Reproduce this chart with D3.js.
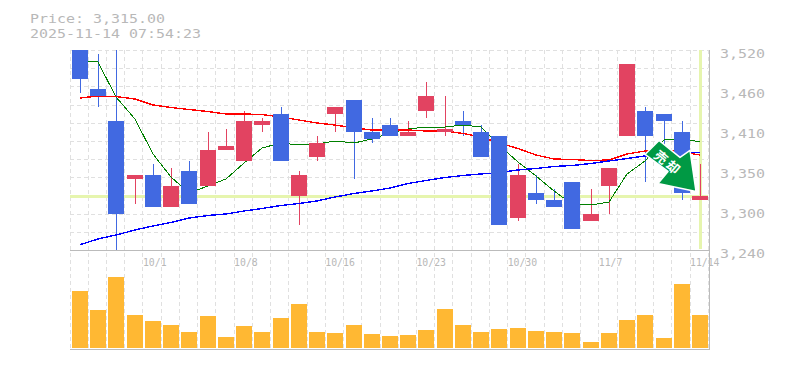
<!DOCTYPE html>
<html>
<head>
<meta charset="utf-8">
<script src="https://cdn.jsdelivr.net/npm/d3@7"></script>
<style>
body { margin: 0; background: #fff; }
text { font-family: "DejaVu Sans Mono", monospace; fill: #b8b8b8; }
.grid { stroke: #e0e0e0; stroke-dasharray: 4,3; shape-rendering: crispEdges; }
.frame { stroke: #bbb; shape-rendering: crispEdges; }
.ma { fill: none; shape-rendering: crispEdges; }
</style>
</head>
<body>
<svg id="chart" width="785" height="370"></svg>
<script>
var dates = ["9/25","9/26","9/29","9/30","10/1","10/2","10/3","10/6","10/7","10/8","10/9","10/10","10/14","10/15","10/16","10/17","10/20","10/21","10/22","10/23","10/24","10/27","10/28","10/29","10/30","10/31","11/4","11/5","11/6","11/7","11/10","11/11","11/12","11/13","11/14"];
var opens  = [3525,3465,3420,3340,3345,3300,3350,3330,3380,3365,3415,3430,3315,3370,3430,3450,3405,3415,3400,3435,3405,3420,3405,3400,3285,3320,3310,3335,3280,3330,3400,3435,3430,3405,3310];
var highs  = [3525,3515,3530,3345,3360,3355,3365,3405,3410,3435,3425,3440,3350,3400,3440,3450,3425,3425,3420,3475,3455,3435,3415,3400,3360,3345,3325,3335,3325,3355,3500,3440,3430,3420,3360];
var lows   = [3460,3440,3240,3305,3300,3300,3305,3330,3380,3365,3405,3365,3275,3365,3405,3340,3390,3400,3400,3425,3400,3400,3370,3275,3280,3305,3300,3270,3280,3290,3400,3335,3375,3310,3310];
var closes = [3480,3455,3290,3345,3300,3330,3305,3380,3385,3420,3420,3365,3345,3390,3440,3405,3395,3400,3405,3455,3410,3415,3370,3275,3345,3310,3300,3270,3290,3355,3500,3400,3420,3320,3315];
var volumes = [57,38,71,33,27,23,16,32,11,22,16,30,44,16,15,23,14,12,13,18,39,23,16,19,20,17,16,15,6,15,28,33,10,64,33];
var maShort = [3504.6,3503.2,3454.2,3423.4,3374.4,3342.2,3319.8,3329.6,3339.4,3361.8,3382.8,3389.8,3387,3388.4,3392.6,3389.8,3395.4,3403.8,3409.4,3412.2,3412.2,3415,3412.2,3387,3363.2,3343.6,3322.6,3304.4,3303,3307.2,3346.4,3364.6,3394,3396.1,3391.2];
var maMid = [3452.8,3455.6,3454.9,3451.4,3443,3439.5,3436.7,3433.9,3430.4,3430.4,3429.7,3426.2,3422,3417.8,3415,3410.8,3408,3408,3408,3406.6,3406.6,3403.1,3398.2,3389.8,3382.1,3373,3367.4,3366.7,3365.3,3366,3374.4,3378.6,3380,3377.2,3373];
var maLong = [3247.4,3255.4,3261,3268,3273.6,3278.5,3284.8,3288.3,3290.4,3294.6,3298.1,3302.3,3305.1,3308.6,3314.2,3319.1,3322.6,3326.8,3333.1,3337.3,3341.5,3344.3,3346.4,3348.5,3352,3354.1,3356.9,3358.3,3361.1,3364.6,3368.1,3371.6,3374.4,3376.5,3376.5];
var priceTicks = [3520,3464,3408,3352,3296,3240];
var dateTicks = ["10/1","10/8","10/16","10/23","10/30","11/7","11/14"];
var lastPrice = 3315;
var headerLines = ["Price: 3,315.00","2025-11-14 07:54:23"];
var signalText = ["売","却"];

var svg = d3.select("#chart");

var x = d3.scaleBand().domain(dates).range([70, 708.25]);
var y = d3.scaleLinear().domain([3240, 3520]).range([250, 50]);
var v = d3.scaleLinear().domain([0, 98]).range([348, 250]);

var barWidth = 16;
var upColor = "#e24361", downColor = "#4169e1", markColor = "#e6f5ae";

function left(i) { return Math.round(x(dates[i]) + 2); }
function mid(i) { return left(i) + 8; }

// mono text squeezed to the width the chart's font has
function monoText(sel, size, charWidth) {
    sel.style("font-size", size + "px")
        .attr("textLength", function() { return String(this.__label).length * charWidth; })
        .attr("lengthAdjust", "spacingAndGlyphs")
        .text(function() { return this.__label; });
}

svg.selectAll(".head")
    .data(headerLines)
    .enter().append("text")
    .attr("class", "head")
    .attr("x", 30)
    .attr("y", function(d, i) { return 23 + i * 15; })
    .each(function(d) { this.__label = d; })
    .call(monoText, 12.8, 9);

// grid
var gridY = d3.range(12).map(function(i) { return 3240 + i * 280 / 11; });
var g = svg.append("g");

g.selectAll(".hgrid")
    .data(gridY)
    .enter().append("line")
    .attr("class", "grid")
    .attr("x1", 70).attr("x2", 708)
    .attr("y1", function(d) { return Math.round(y(d)) + 0.5; })
    .attr("y2", function(d) { return Math.round(y(d)) + 0.5; });

g.selectAll(".vgrid")
    .data(dates)
    .enter().append("line")
    .attr("class", "grid")
    .attr("x1", function(d) { return Math.floor(x(d)) + 0.5; })
    .attr("x2", function(d) { return Math.floor(x(d)) + 0.5; })
    .attr("y1", 50).attr("y2", 350);

g.append("line").attr("class", "grid")
    .attr("x1", 708.5).attr("x2", 708.5).attr("y1", 50).attr("y2", 350);

// current price and last session markers
g.append("rect")
    .attr("x", 70).attr("width", 638)
    .attr("y", Math.round(y(lastPrice)) - 1).attr("height", 3)
    .attr("fill", markColor);

g.append("rect")
    .attr("x", mid(dates.length - 1) - 1).attr("width", 3)
    .attr("y", 50).attr("height", 199)
    .attr("fill", markColor);

// frame
g.append("path").attr("class", "frame").attr("fill", "none")
    .attr("d", "M70,250.5H709.5M70,349.5H709.5M709.5,50V350");

svg.append("clipPath").attr("id", "plot")
    .append("rect").attr("x", 70).attr("y", 50).attr("width", 640).attr("height", 200);

var plot = svg.append("g").attr("clip-path", "url(#plot)");

// wicks go under the moving averages, bodies over them
plot.selectAll(".wick")
    .data(dates)
    .enter().append("rect")
    .attr("class", "wick")
    .attr("x", function(d, i) { return mid(i); })
    .attr("width", 1)
    .attr("y", function(d, i) { return Math.round(y(highs[i])); })
    .attr("height", function(d, i) { return Math.round(y(lows[i])) - Math.round(y(highs[i])); })
    .attr("fill", function(d, i) { return closes[i] >= opens[i] ? upColor : downColor; });

function maLine(values) {
    return d3.line()
        .x(function(d, i) { return mid(i); })
        .y(function(d) { return y(d); })(values);
}

[[maShort, "#008000", 1], [maMid, "#ff0000", 1.4], [maLong, "#0000ff", 1.4]].forEach(function(s) {
    plot.append("path")
        .attr("class", "ma")
        .attr("d", maLine(s[0]))
        .attr("stroke", s[1])
        .attr("stroke-width", s[2]);
});

plot.selectAll(".body")
    .data(dates)
    .enter().append("rect")
    .attr("class", "body")
    .attr("x", function(d, i) { return left(i); })
    .attr("width", barWidth)
    .attr("y", function(d, i) { return Math.round(y(Math.max(opens[i], closes[i]))); })
    .attr("height", function(d, i) { return Math.abs(Math.round(y(opens[i])) - Math.round(y(closes[i]))); })
    .attr("fill", function(d, i) { return closes[i] >= opens[i] ? upColor : downColor; });

// volume
svg.selectAll(".vol")
    .data(volumes)
    .enter().append("rect")
    .attr("class", "vol")
    .attr("x", function(d, i) { return left(i); })
    .attr("width", barWidth)
    .attr("y", function(d) { return v(d); })
    .attr("height", function(d) { return v(0) - v(d); })
    .attr("fill", "#ffb833");

// axes labels
svg.selectAll(".ylab")
    .data(priceTicks)
    .enter().append("text")
    .attr("class", "ylab")
    .attr("x", 720)
    .attr("y", function(d) { return y(d) + 8; })
    .each(function(d) { this.__label = d3.format(",")(Math.round(d / 10) * 10); })
    .call(monoText, 12.8, 9);

svg.selectAll(".xlab")
    .data(dateTicks)
    .enter().append("text")
    .attr("class", "xlab")
    .attr("x", function(d) { return x(d); })
    .attr("y", 266)
    .each(function(d) { this.__label = d; })
    .call(monoText, 11, 5.9);

// sell signal arrow, placed relative to the last candle
var last = dates.length - 1;
var signal = svg.append("g")
    .attr("transform", "translate(" + mid(last) + "," + y(closes[last]) + ")");

signal.append("polygon")
    .attr("points", "-55,-42 -41,-56 -20,-39 -10,-46 -4,-5 -42,-13 -32,-25")
    .attr("fill", "#009944")
    .attr("stroke", "#fff")
    .attr("stroke-width", 1.5)
    .attr("stroke-linejoin", "round");

signal.selectAll(".sig")
    .data(signalText)
    .enter().append("text")
    .attr("transform", function(d, i) {
        return "translate(" + (-39 + i * 12) + "," + (-39 + i * 10) + ") rotate(40)";
    })
    .attr("text-anchor", "middle")
    .attr("dy", "0.36em")
    .style("font-family", '"Noto Sans CJK JP", sans-serif')
    .style("font-size", "13px")
    .style("font-weight", "bold")
    .style("fill", "#fff")
    .text(function(d) { return d; });
</script>
</body>
</html>
